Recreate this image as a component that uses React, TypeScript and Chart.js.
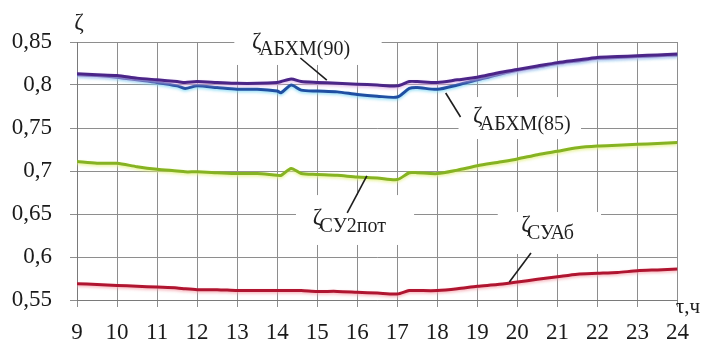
import { useEffect, useRef } from "react";
import { Chart, registerables } from "chart.js";

Chart.register(...registerables);

// Hour of day (τ, h)
const hours = [
  9, 9.5, 10, 10.5, 11, 11.5, 11.7, 12, 12.5, 13, 13.5, 14, 14.1, 14.35, 14.6, 15,
  15.5, 16, 16.5, 17, 17.3, 17.5, 18, 18.5, 19, 19.5, 20, 20.5, 21, 21.5, 22, 22.5,
  23, 23.5, 24,
];

// ζ АБХМ(90)
const zetaAbhm90 = [
  0.813, 0.812, 0.811, 0.808, 0.806, 0.804, 0.803, 0.804, 0.803, 0.802, 0.802, 0.803,
  0.804, 0.807, 0.804, 0.803, 0.802, 0.801, 0.800, 0.799, 0.804, 0.804, 0.803, 0.806,
  0.809, 0.814, 0.818, 0.822, 0.826, 0.829, 0.832, 0.833, 0.834, 0.835, 0.836,
];

// ζ АБХМ(85)
const zetaAbhm85 = [
  0.812, 0.811, 0.809, 0.806, 0.803, 0.799, 0.796, 0.799, 0.797, 0.795, 0.795, 0.793,
  0.791, 0.800, 0.794, 0.793, 0.792, 0.789, 0.787, 0.786, 0.796, 0.797, 0.795, 0.800,
  0.806, 0.812, 0.817, 0.821, 0.825, 0.828, 0.831, 0.832, 0.833, 0.834, 0.835,
];

// ζ СУ2пот
const zetaSu2pot = [
  0.711, 0.709, 0.709, 0.705, 0.702, 0.700, 0.699, 0.699, 0.698, 0.697, 0.697, 0.695,
  0.695, 0.703, 0.697, 0.696, 0.695, 0.693, 0.692, 0.690, 0.698, 0.698, 0.697, 0.701,
  0.706, 0.710, 0.714, 0.719, 0.723, 0.727, 0.729, 0.730, 0.731, 0.732, 0.733,
];

// ζ СУАб
const zetaSuab = [
  0.569, 0.568, 0.567, 0.566, 0.565, 0.564, 0.563, 0.562, 0.562, 0.561, 0.561, 0.561,
  0.561, 0.561, 0.561, 0.560, 0.560, 0.559, 0.558, 0.557, 0.561, 0.561, 0.561, 0.563,
  0.566, 0.568, 0.571, 0.574, 0.577, 0.580, 0.581, 0.582, 0.584, 0.585, 0.586,
];

const xTicks = [9, 10, 11, 12, 13, 14, 15, 16, 17, 18, 19, 20, 21, 22, 23, 24];
const yTicks = [0.55, 0.6, 0.65, 0.7, 0.75, 0.8, 0.85];

const SERIF = "Liberation Serif";
const GRID = "#8e8e8e";

// Callout labels, in data units (hour, ζ)
type Callout = {
  sub: string;
  box: [number, number, number, number]; // h0, v0, h1, v1
  zeta: [number, number];
  subPos: [number, number];
  leader: [number, number, number, number];
};

const callouts: Callout[] = [
  {
    sub: "АБХМ(90)",
    box: [12.93, 0.8756, 16.61, 0.8233],
    zeta: [13.37, 0.8436],
    subPos: [13.55, 0.8349],
    leader: [14.58, 0.8314, 15.24, 0.8058],
  },
  {
    sub: "АБХМ(85)",
    box: [18.53, 0.786, 21.59, 0.7372],
    zeta: [18.89, 0.7567],
    subPos: [19.06, 0.7477],
    leader: [18.21, 0.7907, 18.58, 0.7628],
  },
  {
    sub: "СУ2пот",
    box: [14.47, 0.672, 17.42, 0.614],
    zeta: [14.89, 0.6384],
    subPos: [15.06, 0.6291],
    leader: [16.24, 0.6942, 15.75, 0.6512],
  },
  {
    sub: "СУАб",
    box: [19.51, 0.6523, 22.09, 0.6035],
    zeta: [20.1, 0.6302],
    subPos: [20.24, 0.6209],
    leader: [20.34, 0.6047, 19.8, 0.5709],
  },
];

const calloutPlugin = {
  id: "callouts",
  beforeDatasetsDraw(chart: any) {
    const { ctx, scales } = chart;
    const x = scales.x;
    const y = scales.y;
    ctx.save();
    ctx.fillStyle = "#ffffff";
    for (const c of callouts) {
      const x0 = x.getPixelForValue(c.box[0]);
      const y0 = y.getPixelForValue(c.box[1]);
      const x1 = x.getPixelForValue(c.box[2]);
      const y1 = y.getPixelForValue(c.box[3]);
      ctx.fillRect(x0, y0, x1 - x0, y1 - y0);
    }
    ctx.restore();
  },
  afterDatasetsDraw(chart: any) {
    const { ctx, scales } = chart;
    const x = scales.x;
    const y = scales.y;
    ctx.save();
    ctx.fillStyle = "#1e1e1e";
    ctx.textBaseline = "alphabetic";
    ctx.textAlign = "left";
    for (const c of callouts) {
      ctx.font = `23px ${SERIF}`;
      ctx.fillText("ζ", x.getPixelForValue(c.zeta[0]), y.getPixelForValue(c.zeta[1]));
      ctx.font = `20px ${SERIF}`;
      ctx.fillText(c.sub, x.getPixelForValue(c.subPos[0]), y.getPixelForValue(c.subPos[1]));
      ctx.strokeStyle = "#1e1e1e";
      ctx.lineWidth = 1.6;
      ctx.beginPath();
      ctx.moveTo(x.getPixelForValue(c.leader[0]), y.getPixelForValue(c.leader[1]));
      ctx.lineTo(x.getPixelForValue(c.leader[2]), y.getPixelForValue(c.leader[3]));
      ctx.stroke();
    }
    // axis titles
    ctx.font = `23px ${SERIF}`;
    ctx.textAlign = "center";
    ctx.fillText("ζ", x.left + 2, 29);
    ctx.textAlign = "right";
    ctx.font = `21px ${SERIF}`;
    ctx.fillText("τ,ч", chart.width - 1, y.bottom + 13);
    ctx.restore();
  },
};

// soft glow under each curve
const glowPlugin = {
  id: "glow",
  beforeDatasetDraw(chart: any, args: any) {
    const ds = chart.data.datasets[args.index] as any;
    const ctx = chart.ctx;
    ctx.save();
    ctx.shadowColor = ds.glow;
    ctx.shadowBlur = 3;
    ctx.shadowOffsetY = 1.5;
  },
  afterDatasetDraw(chart: any) {
    chart.ctx.restore();
  },
};

const fmt = (v: number) => String(Number(v.toFixed(2))).replace(".", ",");

export default function App() {
  const ref = useRef<HTMLCanvasElement | null>(null);

  useEffect(() => {
    if (!ref.current) return;
    const mk = (vals: number[]) => hours.map((h, i) => ({ x: h, y: vals[i] }));
    const chart = new Chart(ref.current, {
      type: "line",
      data: {
        datasets: [
          {
            label: "ζАБХМ(90)",
            data: mk(zetaAbhm90),
            borderColor: "#4b2588",
            glow: "rgba(220,170,230,0.8)",
            order: 0,
          } as any,
          {
            label: "ζАБХМ(85)",
            data: mk(zetaAbhm85),
            borderColor: "#1f4fa2",
            glow: "rgba(120,215,245,0.8)",
            order: 1,
          } as any,
          {
            label: "ζСУ2пот",
            data: mk(zetaSu2pot),
            borderColor: "#86b322",
            glow: "rgba(225,240,120,0.8)",
            order: 2,
          } as any,
          {
            label: "ζСУАб",
            data: mk(zetaSuab),
            borderColor: "#b01530",
            glow: "rgba(245,160,170,0.8)",
            order: 3,
          } as any,
        ],
      },
      options: {
        responsive: false,
        animation: false,
        events: [],
        elements: {
          point: { radius: 0 },
          line: { borderWidth: 3, tension: 0.25, fill: false },
        },
        layout: { padding: { left: 0, top: 42, right: 13, bottom: 0 } },
        plugins: {
          legend: { display: false },
          tooltip: { enabled: false },
        },
        scales: {
          x: {
            type: "linear",
            min: 9,
            max: 24,
            afterBuildTicks: (s: any) => {
              s.ticks = xTicks.map((v) => ({ value: v }));
            },
            afterFit: (s: any) => {
              s.height = 45;
            },
            grid: { color: GRID, lineWidth: 1, tickLength: 7, tickColor: GRID },
            border: { color: "#7a7a7a", width: 1 },
            ticks: {
              color: "#1a1a1a",
              font: { family: SERIF, size: 23 },
              padding: 12,
              maxRotation: 0,
              autoSkip: false,
              callback: (v: any) => String(v),
            },
          },
          y: {
            type: "linear",
            min: 0.55,
            max: 0.85,
            afterBuildTicks: (s: any) => {
              s.ticks = yTicks.map((v) => ({ value: v }));
            },
            afterFit: (s: any) => {
              s.width = 77;
            },
            grid: { color: GRID, lineWidth: 1, tickLength: 7, tickColor: GRID },
            border: { color: "#7a7a7a", width: 1 },
            ticks: {
              color: "#1a1a1a",
              font: { family: SERIF, size: 23 },
              padding: 18,
              autoSkip: false,
              callback: (v: any) => fmt(Number(v)),
            },
          },
        },
      } as any,
      plugins: [glowPlugin, calloutPlugin],
    });
    return () => chart.destroy();
  }, []);

  return (
    <div style={{ position: "fixed", left: 0, top: 0, width: 701, height: 345, background: "#fff" }}>
      <canvas ref={ref} width={701} height={345} style={{ display: "block" }} />
    </div>
  );
}
